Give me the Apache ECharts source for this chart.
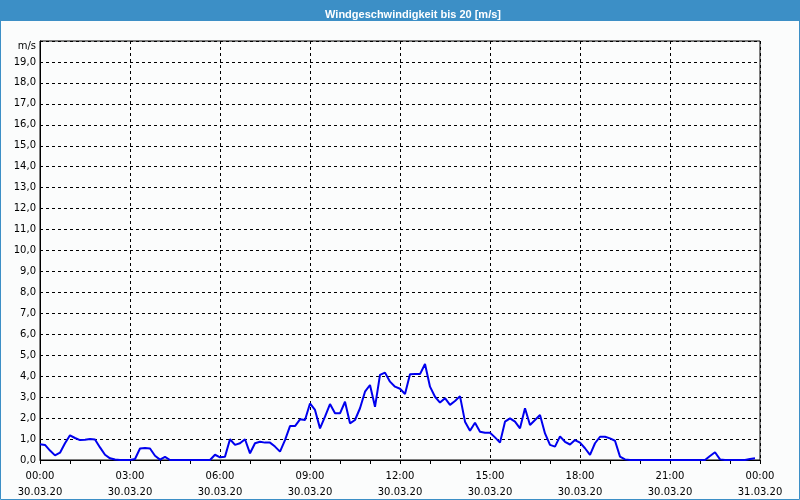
<!DOCTYPE html>
<html>
<head>
<meta charset="utf-8">
<script src="https://cdn.jsdelivr.net/npm/echarts@6/dist/echarts.min.js"></script>
<style>
html,body{margin:0;padding:0;background:#fff;}
#chart{width:800px;height:500px;}
</style>
</head>
<body>
<div id="chart"></div>
<script>
// ---- data ----
const chartTitle = 'Windgeschwindigkeit bis 20 [m/s]';
const unitLabel = 'm/s';
const startMinute = 0;          // 30.03.20 00:00
const stepMinutes = 10;         // one reading every 10 minutes
const windSpeed = [
  0.75, 0.72, 0.45, 0.22, 0.35, 0.80, 1.18, 1.05, 0.95, 0.97, 1.00, 0.98,
  0.60, 0.25, 0.08, 0.02, 0.00, 0.00, 0.00, 0.05, 0.55, 0.57, 0.55, 0.20,
  0.02, 0.15, 0.00, 0.00, 0.00, 0.00, 0.00, 0.00, 0.00, 0.00, 0.00, 0.25,
  0.13, 0.16, 0.99, 0.72, 0.80, 0.99, 0.32, 0.80, 0.87, 0.83, 0.83, 0.64,
  0.40, 0.95, 1.62, 1.62, 1.94, 1.91, 2.70, 2.39, 1.51, 2.07, 2.67, 2.23,
  2.23, 2.78, 1.75, 1.91, 2.47, 3.26, 3.58, 2.54, 4.06, 4.17, 3.74, 3.50,
  3.40, 3.15, 4.09, 4.10, 4.10, 4.58, 3.50, 3.02, 2.74, 2.95, 2.63, 2.82,
  3.05, 1.83, 1.40, 1.78, 1.35, 1.30, 1.30, 1.08, 0.83, 1.83, 1.99, 1.83,
  1.51, 2.47, 1.67, 1.91, 2.15, 1.27, 0.72, 0.64, 1.13, 0.87, 0.74, 0.95,
  0.83, 0.56, 0.24, 0.80, 1.11, 1.11, 1.03, 0.92, 0.16, 0.03, 0.00, 0.00,
  0.00, 0.00, 0.00, 0.00, 0.00, 0.00, 0.00, 0.00, 0.00, 0.00, 0.00, 0.00,
  0.00, 0.00, 0.19, 0.37, 0.03, 0.00, 0.00, 0.00, 0.00, 0.00, 0.05, 0.08
];
const xTickTimes = ['00:00','03:00','06:00','09:00','12:00','15:00','18:00','21:00','00:00'];
const xTickDates = ['30.03.20','30.03.20','30.03.20','30.03.20','30.03.20','30.03.20','30.03.20','30.03.20','31.03.20'];
const xTickStep = 180;
const xMax = 1440;
const yMax = 20;
const yStep = 1;

// ---- chart ----
const seriesData = windSpeed.map((v, i) => [startMinute + i * stepMinutes, v]);
const font = 'DejaVu Sans';
const chart = echarts.init(document.getElementById('chart'), null, {renderer: 'canvas'});
chart.setOption({
  animation: false,
  backgroundColor: '#fbfcfc',
  title: {
    text: chartTitle,
    left: 408,
    textAlign: 'center',
    top: 4,
    textStyle: {color: '#ffffff', fontFamily: 'Liberation Sans', fontSize: 11, fontWeight: 'bold'}
  },
  graphic: [
    {type: 'rect', z: -10, shape: {x: 0, y: 0, width: 800, height: 21}, style: {fill: '#3c8fc6'}},
    {type: 'rect', z: -10, shape: {x: 0.5, y: 0.5, width: 799, height: 499}, style: {fill: null, stroke: '#3c8fc6', lineWidth: 1}}
  ],
  grid: {left: 40, right: 40, top: 41, bottom: 40, show: true, borderColor: '#000', borderWidth: 1, backgroundColor: 'transparent'},
  xAxis: {
    type: 'value', min: 0, max: xMax, interval: xTickStep,
    axisLine: {lineStyle: {color: '#000', width: 1}},
    axisTick: {show: true, length: 4, lineStyle: {color: '#000'}},
    minorTick: {show: true, splitNumber: 3, length: 4, lineStyle: {color: '#000'}},
    splitLine: {show: true, lineStyle: {color: '#000', type: [3, 3], width: 1}},
    axisLabel: {
      margin: 8, color: '#000', fontFamily: font, fontSize: 10, lineHeight: 16,
      formatter: v => { const k = Math.round(v / xTickStep); return xTickTimes[k] + '\n' + xTickDates[k]; }
    }
  },
  yAxis: {
    type: 'value', min: 0, max: yMax, interval: yStep,
    axisLine: {show: true, lineStyle: {color: '#000', width: 1}},
    axisTick: {show: false},
    splitLine: {show: true, lineStyle: {color: '#000', type: [3, 3], width: 1}},
    axisLabel: {
      margin: 4, color: '#000', fontFamily: font, fontSize: 10,
      formatter: v => v === yMax ? '{u|' + unitLabel + '}' : v.toFixed(1).replace('.', ','),
      rich: {u: {color: '#000', fontFamily: font, fontSize: 10, padding: [10, 0, 0, 0]}}
    }
  },
  series: [{
    type: 'line', data: seriesData, showSymbol: false, smooth: false,
    lineStyle: {color: '#0000ee', width: 2}, z: 5
  }]
});
</script>
</body>
</html>
